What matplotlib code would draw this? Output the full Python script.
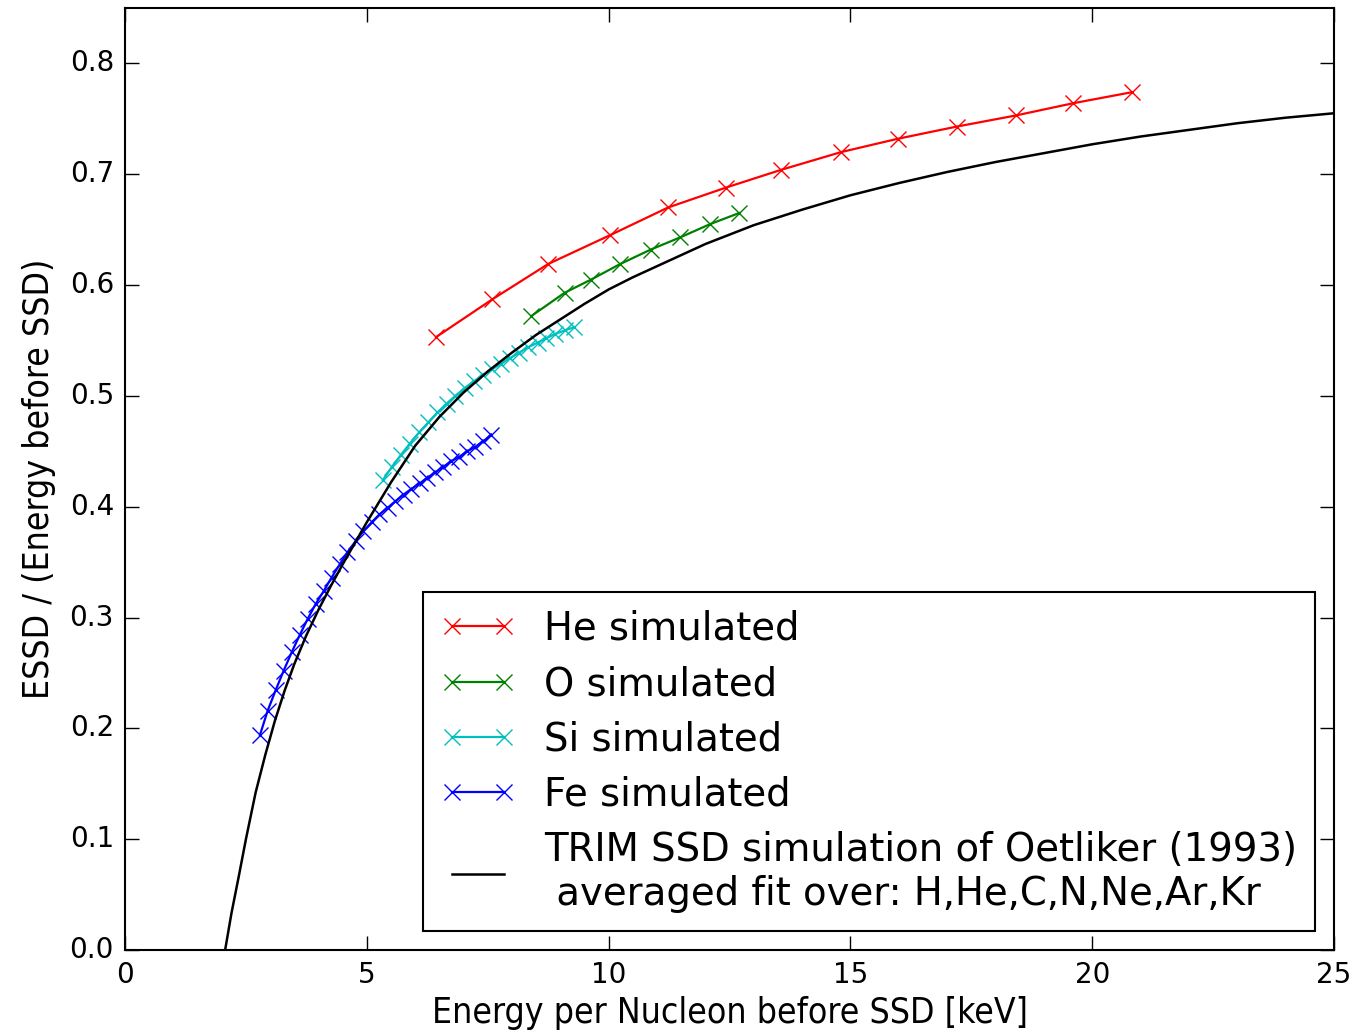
import numpy as np
import matplotlib
matplotlib.use("Agg")
import matplotlib.pyplot as plt

plt.style.use("classic")

# simulated ESSD fractions per ion
he_E = [6.43, 7.59, 8.75, 10.03, 11.23, 12.43, 13.57, 14.81, 15.98, 17.20, 18.42, 19.60, 20.82]
he_R = [0.553, 0.587, 0.619, 0.645, 0.670, 0.688, 0.704, 0.720, 0.732, 0.743, 0.753, 0.764, 0.774]

o_E = [8.40, 9.09, 9.64, 10.24, 10.87, 11.48, 12.10, 12.70]
o_R = [0.572, 0.593, 0.605, 0.619, 0.632, 0.643, 0.655, 0.665]

si_E = [5.33, 5.52, 5.71, 5.89, 6.08, 6.27, 6.46, 6.65, 6.83, 7.02, 7.21,
        7.40, 7.59, 7.77, 7.96, 8.15, 8.34, 8.53, 8.71, 8.90, 9.09, 9.28]
si_R = [0.424, 0.436, 0.447, 0.457, 0.467, 0.476, 0.485, 0.493, 0.500, 0.507, 0.513,
        0.519, 0.524, 0.529, 0.534, 0.539, 0.544, 0.548, 0.552, 0.556, 0.559, 0.562]

fe_E = [2.79, 2.95, 3.12, 3.28, 3.45, 3.61, 3.78, 3.94, 4.11, 4.27, 4.44, 4.60, 4.77, 4.93, 5.10,
        5.26, 5.43, 5.59, 5.76, 5.92, 6.09, 6.25, 6.42, 6.58, 6.75, 6.91, 7.08, 7.24, 7.41, 7.57]
fe_R = [0.194, 0.216, 0.235, 0.252, 0.269, 0.284, 0.299, 0.312, 0.324, 0.336, 0.348, 0.359, 0.369, 0.378, 0.386,
        0.393, 0.399, 0.405, 0.411, 0.416, 0.421, 0.426, 0.431, 0.436, 0.441, 0.445, 0.450, 0.454, 0.459, 0.465]

# Oetliker (1993) TRIM fit, tabulated
trim_E = [2.07, 2.2, 2.35, 2.5, 2.7, 2.9, 3.1, 3.3, 3.5, 3.75, 4.0, 4.25, 4.5, 4.75, 5.0,
          5.5, 6.0, 6.5, 7.0, 7.5, 8.0, 8.5, 9.0, 9.5, 10.0, 10.5, 11.0, 11.5, 12.0,
          13.0, 14.0, 15.0, 16.0, 17.0, 18.0, 19.0, 20.0, 21.0, 22.0, 23.0, 24.0, 25.0]
trim_R = [0.000, 0.033, 0.066, 0.100, 0.142, 0.176, 0.207, 0.234, 0.258, 0.284, 0.307, 0.328, 0.348, 0.367, 0.386,
          0.422, 0.455, 0.481, 0.503, 0.522, 0.539, 0.555, 0.569, 0.583, 0.596, 0.607, 0.617, 0.627, 0.637,
          0.654, 0.668, 0.681, 0.692, 0.702, 0.711, 0.719, 0.727, 0.734, 0.740, 0.746, 0.751, 0.755]

fig = plt.figure(figsize=(13.56, 10.36), dpi=100, facecolor="white")
ax = fig.add_axes([0.0922, 0.083, 0.8916, 0.9093])

mk = dict(marker="x", markersize=12, markeredgewidth=1.0, linewidth=1.6)
ax.plot(he_E, he_R, color="r", label="He simulated", **mk)
ax.plot(o_E, o_R, color="g", label="O simulated", **mk)
ax.plot(si_E, si_R, color="c", label="Si simulated", **mk)
ax.plot(fe_E, fe_R, color="b", label="Fe simulated", **mk)
ax.plot(trim_E, trim_R, color="k", linewidth=1.8,
        label="TRIM SSD simulation of Oetliker (1993)\n averaged fit over: H,He,C,N,Ne,Ar,Kr")

ax.set_xlim(0, 25)
ax.set_ylim(0, 0.85)
ax.set_xticks([0, 5, 10, 15, 20, 25])
ax.set_yticks(np.arange(0, 0.81, 0.1))
ax.tick_params(labelsize=20, length=10, width=1, direction="in", top=True, right=True, pad=8)
for s in ax.spines.values():
    s.set_linewidth(1.5)

ax.set_xlabel("Energy per Nucleon before SSD [keV]", fontsize=25.5, fontstretch="condensed")
ax.set_ylabel("ESSD / (Energy before SSD)", fontsize=25.5, fontstretch="condensed", labelpad=10)

leg = ax.legend(loc="lower right", numpoints=2, fontsize=27.8, handlelength=1.95,
                labelspacing=0.45, borderpad=0.45, handletextpad=0.75, fancybox=False,
                borderaxespad=0.5)
leg.get_frame().set_edgecolor("k")
leg.get_frame().set_linewidth(1.5)

fig.savefig("out.png", dpi=100, facecolor="white")
